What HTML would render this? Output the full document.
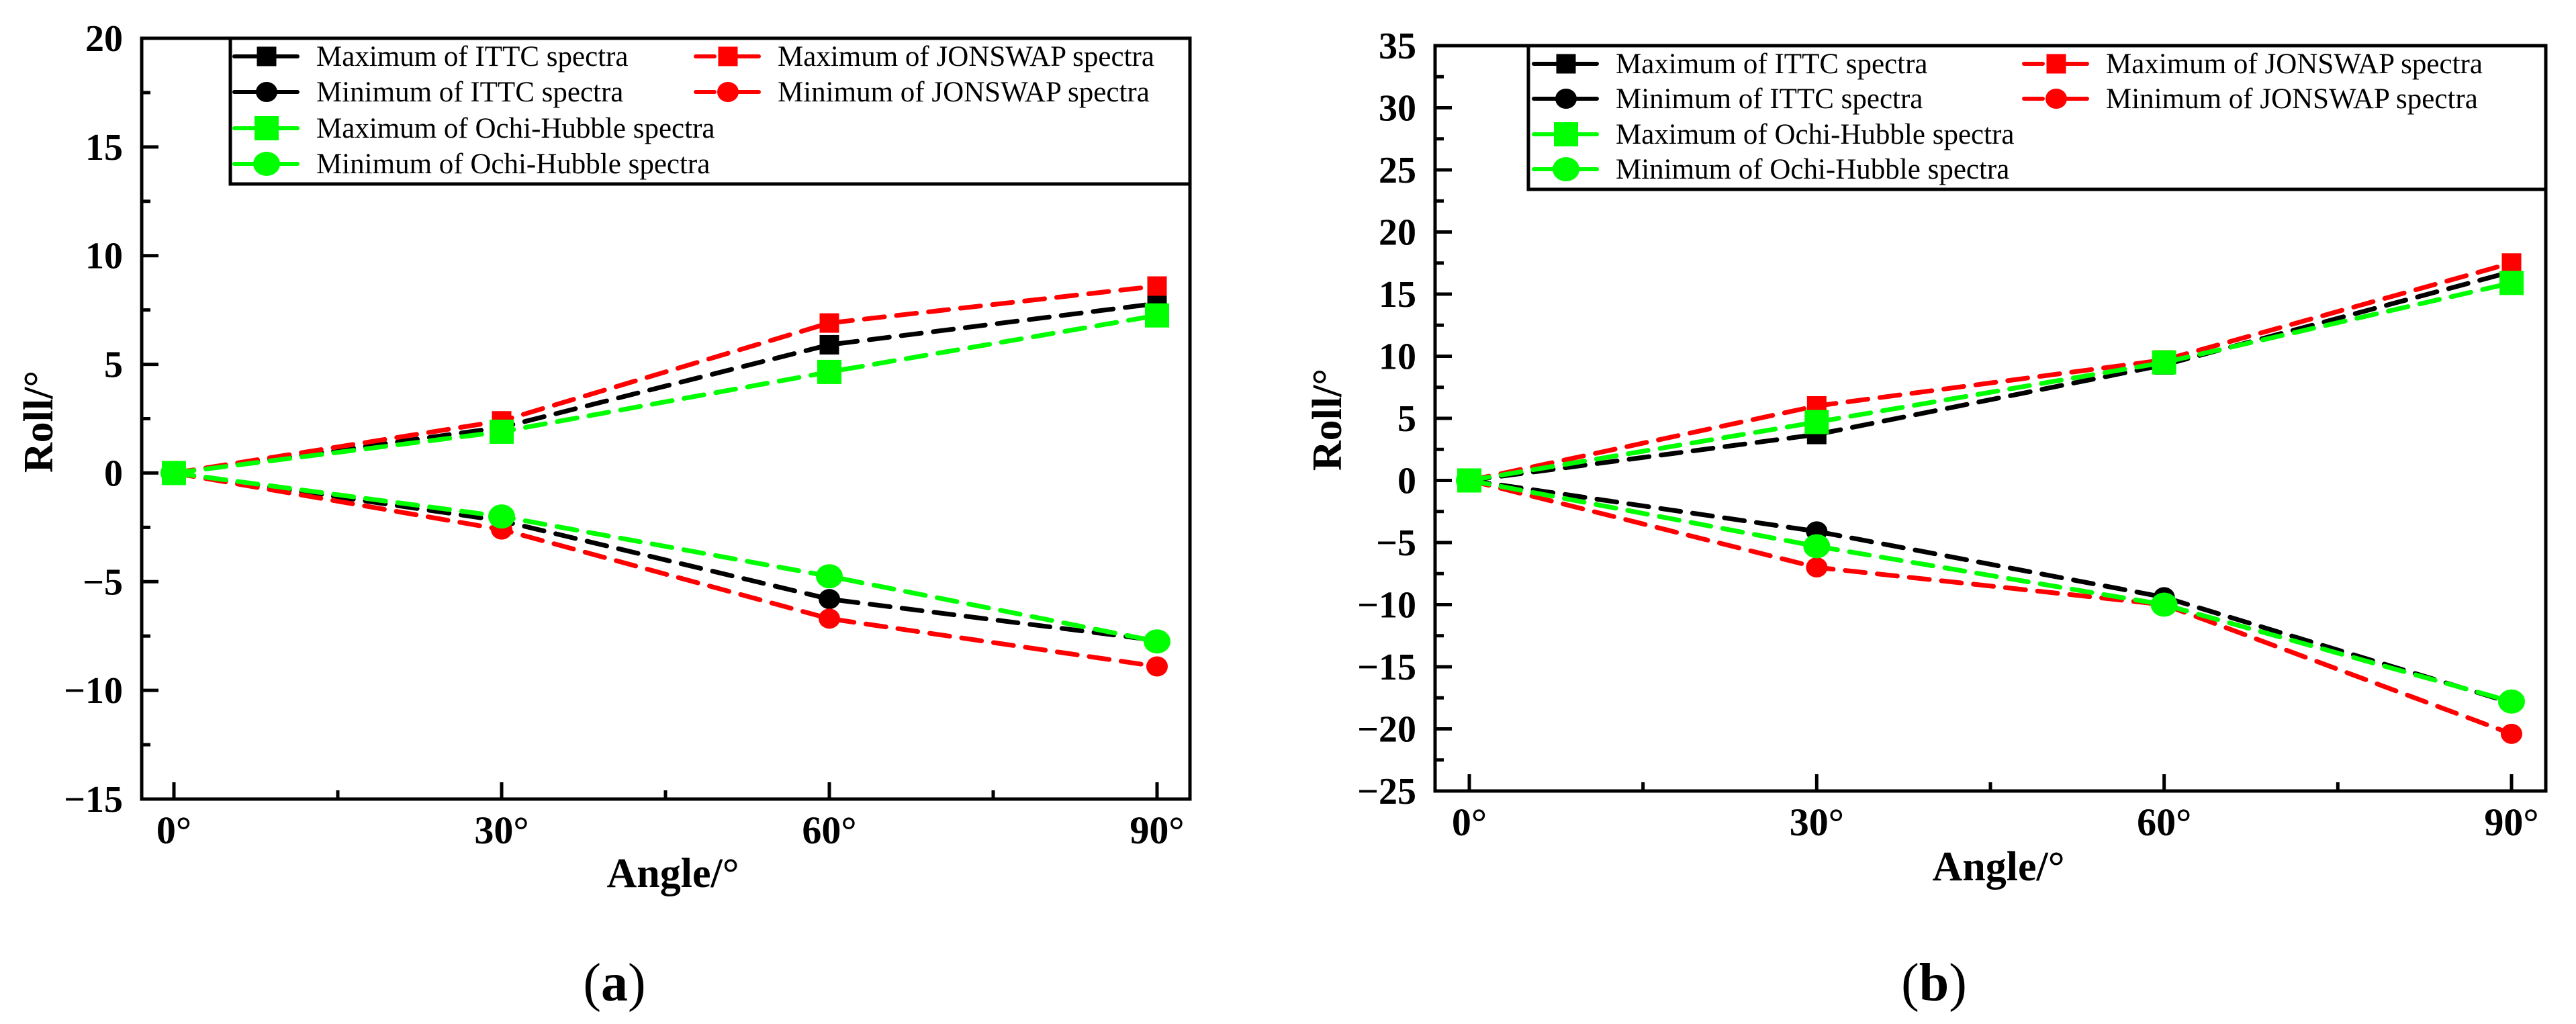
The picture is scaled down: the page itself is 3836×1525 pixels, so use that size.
<!DOCTYPE html>
<html><head><meta charset="utf-8">
<style>
html,body{margin:0;padding:0;background:#fff;}
svg{display:block;font-family:"Liberation Serif",serif;}
</style></head>
<body>
<svg id="fig" width="3836" height="1525" viewBox="0 0 3836 1525" xmlns="http://www.w3.org/2000/svg"></svg>
<script>
const angleCats = [0, 30, 60, 90];
const angleLabels = ["0°", "30°", "60°", "90°"];
// Panel (a)
const aIttcMax = [0, 2.1, 5.9, 7.8];
const aIttcMin = [0, -2.2, -5.8, -7.7];
const aJonMax = [0, 2.4, 6.9, 8.6];
const aJonMin = [0, -2.6, -6.7, -8.9];
const aOhMax = [0, 1.9, 4.65, 7.25];
const aOhMin = [0, -2.0, -4.75, -7.75];
const aYTicks = [-15, -10, -5, 0, 5, 10, 15, 20];
// Panel (b)
const bIttcMax = [0, 3.7, 9.3, 16.8];
const bIttcMin = [0, -4.1, -9.4, -17.9];
const bJonMax = [0, 6.0, 9.7, 17.5];
const bJonMin = [0, -7.0, -10.0, -20.4];
const bOhMax = [0, 4.7, 9.5, 15.9];
const bOhMin = [0, -5.3, -10.0, -17.8];
const bYTicks = [-25, -20, -15, -10, -5, 0, 5, 10, 15, 20, 25, 30, 35];

const legendNames = ["Maximum of ITTC spectra","Minimum of ITTC spectra","Maximum of Ochi-Hubble spectra","Minimum of Ochi-Hubble spectra","Maximum of JONSWAP spectra","Minimum of JONSWAP spectra"];

const NS = "http://www.w3.org/2000/svg";
const svg = document.getElementById("fig");
function mk(tag, attrs, parent, text){
  const e = document.createElementNS(NS, tag);
  for (const k in attrs) e.setAttribute(k, attrs[k]);
  if (text !== undefined) e.textContent = text;
  (parent || svg).appendChild(e);
  return e;
}

function marker(g, kind, color, big, cx, cy){
  let e;
  if (kind === "sq") {
    const s = big ? 36 : 29;
    e = mk("rect", {x: cx - s/2, y: cy - s/2, width: s, height: s, fill: color}, g);
  } else {
    e = mk("ellipse", {cx: cx, cy: cy, rx: big ? 20 : 16, ry: big ? 18 : 15, fill: color}, g);
  }
  return e;
}

function panel(P){
  const g = mk("g", {});
  
  
  const xs = v => P.x0 + (v - 0) / 90 * (P.x90 - P.x0);
  const ys = v => P.yTop + (P.yMax - v) / (P.yMax - P.yMin) * (P.yBot - P.yTop);

  const ax = mk("g", {stroke: "#000", "stroke-width": 5}, g);
  
  
  P.yTicks.forEach((t, i) => {
    const y = ys(t);
    if (t !== P.yMin && t !== P.yMax) mk("line", {x1: P.L, x2: P.L + 25, y1: y, y2: y}, ax);
    if (i < P.yTicks.length - 1) {
      const ym = ys(t + 2.5);
      mk("line", {x1: P.L, x2: P.L + 13, y1: ym, y2: ym}, ax);
    }
    const lab = mk("text", {x: P.L - 28, y: y + 19, "text-anchor": "end", "font-size": 56, "font-weight": "bold", fill: "#000"}, g, String(t).replace("-", "\u2212"));
    
    
  });
  angleCats.forEach((c, i) => {
    const x = xs(c);
    mk("line", {x1: x, x2: x, y1: P.yBot, y2: P.yBot - 25}, ax);
    if (i < angleCats.length - 1) {
      const xm = xs(c + 15);
      mk("line", {x1: xm, x2: xm, y1: P.yBot, y2: P.yBot - 13}, ax);
    }
    const lab = mk("text", {x: x, y: P.yBot + 66, "text-anchor": "middle", "font-size": 58, "font-weight": "bold", fill: "#000"}, g, angleLabels[i]);
    
    
  });
  const frame = mk("rect", {x: P.L, y: P.yTop, width: P.R - P.L, height: P.yBot - P.yTop, fill: "none", stroke: "#000", "stroke-width": 5}, g);
  
  

  const series = [
    {d: P.s[0], c: "#000", k: "sq", big: false, n: "ittc-max"},
    {d: P.s[1], c: "#000", k: "ci", big: false, n: "ittc-min"},
    {d: P.s[2], c: "#ff0000", k: "sq", big: false, n: "jonswap-max"},
    {d: P.s[3], c: "#ff0000", k: "ci", big: false, n: "jonswap-min"},
    {d: P.s[4], c: "#00ff00", k: "sq", big: true, n: "ochi-hubble-max"},
    {d: P.s[5], c: "#00ff00", k: "ci", big: true, n: "ochi-hubble-min"}
  ];
  series.forEach(s => {
    const sg = mk("g", {}, g);
    
    
    const pts = s.d.map((v, i) => xs(angleCats[i]) + "," + ys(v)).join(" ");
    const pl = mk("polyline", {points: pts, fill: "none", stroke: s.c, "stroke-width": 7, "stroke-dasharray": "30 18", "stroke-linecap": "round"}, sg);
    
    
    s.d.forEach((v, i) => {
      const m = marker(sg, s.k, s.c, s.big, xs(angleCats[i]), ys(v));
      
      
    });
  });

  const lg = mk("g", {}, g);
  
  
  mk("rect", {x: P.legL, y: P.yTop, width: P.R - P.legL, height: P.legB - P.yTop, fill: "#fff", stroke: "#000", "stroke-width": 5}, lg);
  const entries = [
    {c: "#000", k: "sq", big: false, col: 0, row: 0, t: legendNames[0]},
    {c: "#000", k: "ci", big: false, col: 0, row: 1, t: legendNames[1]},
    {c: "#00ff00", k: "sq", big: true, col: 0, row: 2, t: legendNames[2]},
    {c: "#00ff00", k: "ci", big: true, col: 0, row: 3, t: legendNames[3]},
    {c: "#ff0000", k: "sq", big: false, col: 1, row: 0, t: legendNames[4]},
    {c: "#ff0000", k: "ci", big: false, col: 1, row: 1, t: legendNames[5]}
  ];
  entries.forEach(e => {
    const eg = mk("g", {}, lg);
    
    
    const cx = P.legCols[e.col], y = P.legRows[e.row];
    mk("line", {x1: cx - 48, x2: cx + 46, y1: y, y2: y, stroke: e.c, "stroke-width": 6, "stroke-linecap": "round", "stroke-dasharray": e.c === "#ff0000" ? "28 10 100" : "none"}, eg);
    marker(eg, e.k, e.c, e.big, cx, y);
    mk("text", {x: cx + 74, y: y + 14, "font-size": 43, fill: "#000"}, eg, e.t);
  });

  const yt = mk("text", {x: P.yTitleX, y: P.yTitleY, "text-anchor": "middle", "font-size": 62, "font-weight": "bold", transform: "rotate(-90 " + P.yTitleX + " " + P.yTitleY + ")", "dominant-baseline": "central"}, g, "Roll/°");
  
  
  const xt = mk("text", {x: P.xTitleX, y: P.xTitleY, "text-anchor": "middle", "font-size": 62, "font-weight": "bold"}, g, "Angle/°");
  
  
  const cap = mk("text", {x: P.capX, y: 1490, "text-anchor": "middle", "font-size": 80}, g);
  
  
  mk("tspan", {}, cap, "(");
  mk("tspan", {"font-weight": "bold"}, cap, P.cap);
  mk("tspan", {}, cap, ")");
}

panel({name: "panel-a", L: 211, R: 1772, yTop: 57, yBot: 1190, x0: 259, x90: 1723,
  yMin: -15, yMax: 20, yTicks: aYTicks,
  s: [aIttcMax, aIttcMin, aJonMax, aJonMin, aOhMax, aOhMin],
  legL: 343, legB: 274, legRows: [84, 137, 191, 244], legCols: [397, 1084],
  yTitleX: 58, yTitleY: 628, xTitleX: 1002, xTitleY: 1321, capX: 915, cap: "a"});

panel({name: "panel-b", L: 2137, R: 3791, yTop: 68, yBot: 1178, x0: 2188, x90: 3740,
  yMin: -25, yMax: 35, yTicks: bYTicks,
  s: [bIttcMax, bIttcMin, bJonMax, bJonMin, bOhMax, bOhMin],
  legL: 2276, legB: 282, legRows: [95, 147, 200, 252], legCols: [2332, 3062],
  yTitleX: 1977, yTitleY: 625, xTitleX: 2976, xTitleY: 1311, capX: 2880, cap: "b"});
</script>
</body></html>
